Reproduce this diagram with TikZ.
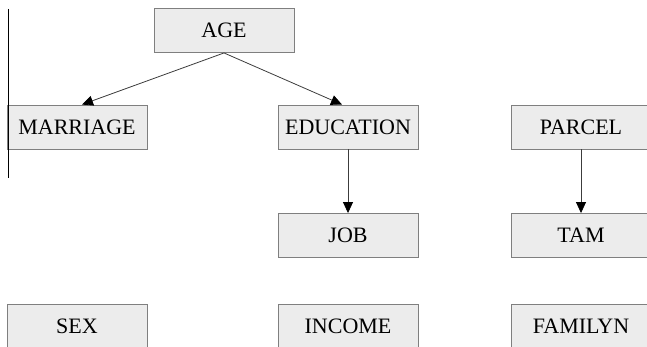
\documentclass[tikz,border=0pt]{standalone}
\usepackage{fontspec}
\setmainfont{Liberation Serif}
\usetikzlibrary{arrows.meta}
\definecolor{boxfill}{HTML}{ECECEC}
\definecolor{boxline}{HTML}{7F7F7F}
\definecolor{arrline}{HTML}{3C3C3C}

\begin{document}
\begin{tikzpicture}[x=1pt,y=-1pt,>={Triangle[length=11pt,width=10pt,color=black]},
    var/.style={draw=boxline,fill=boxfill,line width=0.9pt,minimum width=140pt,
        minimum height=44pt,inner sep=0pt,font=\fontsize{22}{24}\selectfont},
    link/.style={->,draw=arrline,line width=0.8pt}]
            \useasboundingbox (0,0) rectangle (647,347);
            \node[var] (AGE)       at (224,30.5)  {AGE};
            \node[var] (MARRIAGE)  at (77,127)    {MARRIAGE};
            \node[var] (EDUCATION) at (348,127)   {EDUCATION};
            \node[var] (PARCEL)    at (581,127)   {PARCEL};
            \node[var] (JOB)       at (348,235.5) {JOB};
            \node[var] (TAM)       at (581,235.5) {TAM};
            \node[var] (SEX)       at (77,326)    {SEX};
            \node[var] (INCOME)    at (348,326)   {INCOME};
            \node[var] (FAMILYN)   at (581,326)   {FAMILYN};

            \draw[black,line width=1pt] (8,9) -- (8,178);

            	\draw[link] (AGE.south) -- ([xshift=5pt]MARRIAGE.north);
            	\draw[link] (AGE.south) -- ([xshift=-6pt]EDUCATION.north);
            	\draw[link] (EDUCATION) -- (JOB);
            	\draw[link] (PARCEL) -- (TAM);
        \end{tikzpicture}
\end{document}
